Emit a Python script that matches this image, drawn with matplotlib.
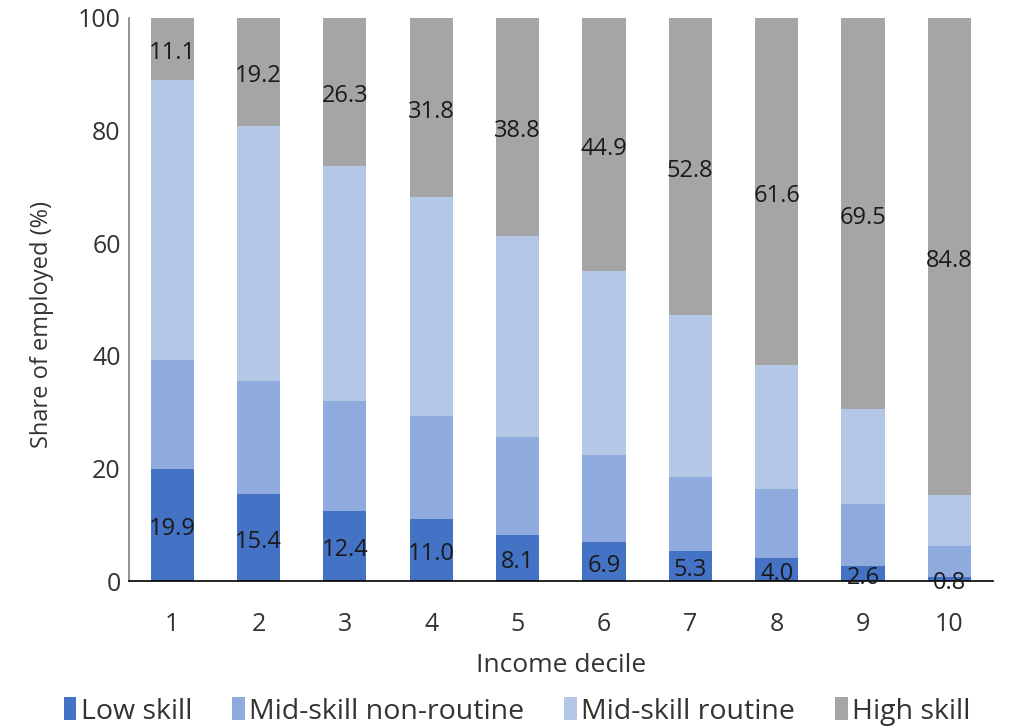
import matplotlib
matplotlib.use("Agg")
import matplotlib.pyplot as plt
import numpy as np
from matplotlib.patches import Patch

plt.rcParams['font.family'] = ['Open Sans', 'DejaVu Sans']

deciles = ['1', '2', '3', '4', '5', '6', '7', '8', '9', '10']
low_skill = [19.9, 15.4, 12.4, 11.0, 8.1, 6.9, 5.3, 4.0, 2.6, 0.8]
mid_nonroutine = [19.4, 20.1, 19.6, 18.3, 17.4, 15.5, 13.2, 12.4, 11.0, 5.5]
mid_routine = [49.6, 45.3, 41.7, 38.9, 35.7, 32.7, 28.7, 22.0, 16.9, 8.9]
high_skill = [11.1, 19.2, 26.3, 31.8, 38.8, 44.9, 52.8, 61.6, 69.5, 84.8]

series = [
    ('Low skill', low_skill, '#4472C4'),
    ('Mid-skill non-routine', mid_nonroutine, '#8FAADC'),
    ('Mid-skill routine', mid_routine, '#B4C7E7'),
    ('High skill', high_skill, '#A5A5A5'),
]

fig = plt.figure(figsize=(10.1, 7.28), dpi=100)
ax = fig.add_axes([0.1277, 0.2019, 0.855, 0.7734])

x = np.arange(len(deciles))
bottom = np.zeros(len(deciles))
bars = {}
for name, vals, color in series:
    vals = np.array(vals)
    bars[name] = ax.bar(x, vals, 0.5, bottom=bottom, color=color, label=name, zorder=2)
    bottom = bottom + vals

# value labels on the low- and high-skill segments
values = {name: vals for name, vals, _ in series}
for name in ('Low skill', 'High skill'):
    for rect, v in zip(bars[name], values[name]):
        cy = rect.get_y() + rect.get_height() / 2
        ax.annotate(f'{v:.1f}', (rect.get_x() + rect.get_width() / 2, cy),
                    xytext=(0, -3), textcoords='offset points',
                    ha='center', va='center', fontsize=17, color='#1a1a1a', zorder=5)

ax.set_xlim(-0.5, len(deciles) - 0.5)
ax.set_ylim(0, 100)
ax.set_yticks([0, 20, 40, 60, 80, 100])
ax.set_xticks(x)
ax.set_xticklabels(deciles)
ax.tick_params(axis='both', length=0, labelsize=18, colors='#333333')
ax.tick_params(axis='x', pad=22)
ax.tick_params(axis='y', pad=6)

for s in ('top', 'right'):
    ax.spines[s].set_visible(False)
ax.spines['left'].set_color('#808080')
ax.spines['left'].set_linewidth(1.2)
ax.spines['bottom'].set_color('#000000')
ax.spines['bottom'].set_linewidth(1.2)
ax.spines['bottom'].set_zorder(4)

ax.set_ylabel('Share of employed (%)', fontsize=17, color='#333333')
ax.yaxis.set_label_coords(-0.087, 0.456)
ax.set_xlabel('Income decile', fontsize=19, color='#333333', labelpad=12)

handles = [Patch(facecolor=c, label=n) for n, _, c in series]
fig.legend(handles=handles, loc='lower center', bbox_to_anchor=(0.512, -0.032), ncol=4,
           frameon=False, fontsize=20.5, handlelength=0.45, handleheight=0.85,
           handletextpad=0.15, columnspacing=1.4, labelcolor='#333333')

fig.savefig('out.png', dpi=100)
